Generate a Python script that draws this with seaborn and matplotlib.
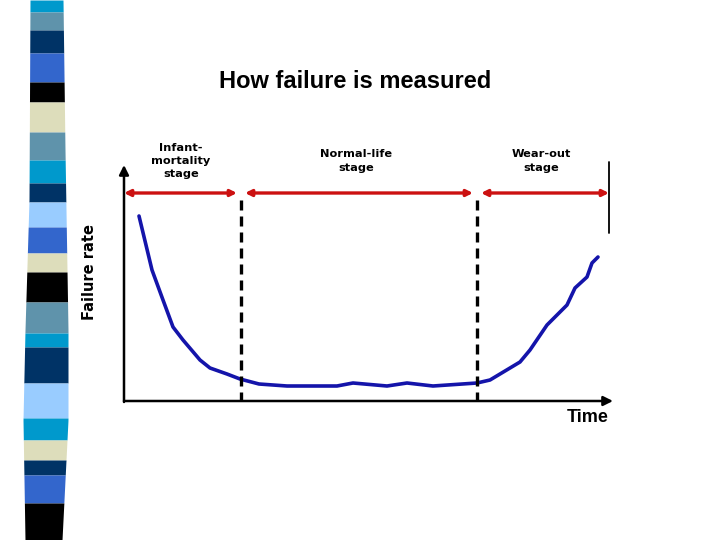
import numpy as np
import pandas as pd
import matplotlib
matplotlib.use("Agg")
import matplotlib.pyplot as plt
import seaborn as sns

# bathtub curve (arbitrary units)
time = [15, 28, 39, 49, 59, 76, 86, 103, 116, 135, 163, 213, 229, 263, 283,
        309, 353, 366, 396, 406, 423, 443, 451, 463, 468, 474]
failure_rate = [186, 132, 102, 75, 62, 42, 34, 28, 23, 18, 16, 16, 19, 16, 19,
                16, 19, 22, 40, 52, 77, 97, 114, 125, 139, 145]

stage_labels = ["Infant-\nmortality\nstage", "Normal-life\nstage", "Wear-out\nstage"]
stage_bounds = [0, 117, 353, 485]

# decorative stripe on the left of the slide (top, bottom, colour)
stripe_edges = [0, 12, 30, 53, 82, 102, 132, 160, 183, 202, 227, 253, 272, 302,
                333, 347, 383, 418, 440, 460, 475, 503, 540]
stripe_colors = ["#0099CC", "#5F93AB", "#003366", "#3366CC", "#000000", "#DDDDBB",
                 "#5F93AB", "#0099CC", "#003366", "#99CCFF", "#3366CC", "#DDDDBB",
                 "#000000", "#5F93AB", "#0099CC", "#003366", "#99CCFF", "#0099CC",
                 "#DDDDBB", "#003366", "#3366CC", "#000000"]

sns.set_style("white")
plt.rcParams['font.family'] = ['Liberation Sans', 'DejaVu Sans']
plt.rcParams['text.color'] = 'black'

fig = plt.figure(figsize=(7.2, 5.4), dpi=100)

# background stripe
bg = fig.add_axes([0, 0, 1, 1])
bg.set_xlim(0, 720)
bg.set_ylim(540, 0)
bg.axis("off")
yy = np.linspace(0, 540, 200)
left_edge = np.interp(yy, [0, 200, 330, 420, 540], [30, 29, 25, 23, 25])
right_edge = np.interp(yy, [0, 150, 330, 420, 540], [63, 65, 68, 68, 62])
for top, bot, col in zip(stripe_edges[:-1], stripe_edges[1:], stripe_colors):
    m = (yy >= top - 3) & (yy <= bot + 3)
    seg = np.clip(yy[m], top, bot)
    bg.fill_betweenx(seg, left_edge[m], right_edge[m], color=col, lw=0)

fig.text(355 / 720, 1 - 81 / 540, "How failure is measured", ha="center",
         va="center", fontsize=17, fontweight="bold")

ax = fig.add_axes([124 / 720, (540 - 402) / 540, 496 / 720, 242 / 540])
ax.set_xlim(0, 496)
ax.set_ylim(0, 242)
ax.axis("off")

df = pd.DataFrame({"time": time, "rate": failure_rate})
sns.lineplot(data=df, x="time", y="rate", ax=ax, color="#1414AA", lw=2.6,
             sort=False, estimator=None)

# axes with arrow heads
ax.annotate("", xy=(0, 237), xytext=(0, 0),
            arrowprops=dict(arrowstyle="-|>", color="black", lw=1.8,
                            mutation_scale=14, shrinkA=0, shrinkB=0))
ax.annotate("", xy=(489, 1), xytext=(0, 1),
            arrowprops=dict(arrowstyle="-|>", color="black", lw=1.8,
                            mutation_scale=14, shrinkA=0, shrinkB=0))

# stage boundaries
for b in stage_bounds[1:3]:
    ax.plot([b, b], [0, 207], color="black", lw=2.4, ls=(0, (3, 1.8)))
ax.plot([stage_bounds[3], stage_bounds[3]], [169, 240], color="black", lw=1.3)

# red stage arrows and labels
gap = 4
for i, lab in enumerate(stage_labels):
    x0 = stage_bounds[i] + (0 if i == 0 else gap)
    x1 = stage_bounds[i + 1] - (gap if i < 2 else 0)
    ax.annotate("", xy=(x1, 209), xytext=(x0, 209),
                arrowprops=dict(arrowstyle="<|-|>", color="#CC1111", lw=2.4,
                                mutation_scale=9, shrinkA=0, shrinkB=0))
centers = [57, 232, 417]
for c, lab in zip(centers, stage_labels):
    ax.text(c, 241, lab, ha="center", va="center", fontsize=8.2,
            fontweight="bold", linespacing=1.4, clip_on=False,
            family="DejaVu Sans")

fig.text(90 / 720, 1 - 272 / 540, "Failure rate", rotation=90, ha="center",
         va="center", fontsize=10.5, fontweight="bold", family="DejaVu Sans")
fig.text(588 / 720, 1 - 418 / 540, "Time", ha="center", va="center",
         fontsize=13, fontweight="bold")

fig.savefig("out.png", dpi=100)
